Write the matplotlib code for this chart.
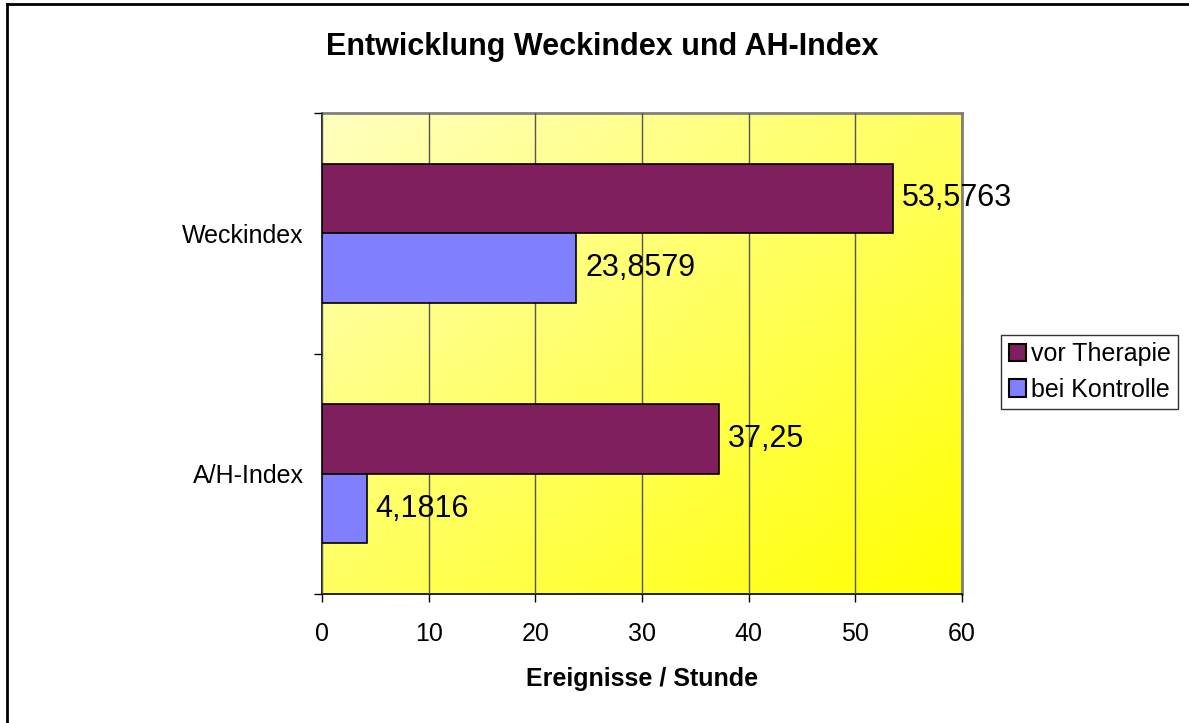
import numpy as np
import matplotlib
matplotlib.use("Agg")
import matplotlib.pyplot as plt
from matplotlib.patches import Patch
from matplotlib.colors import LinearSegmentedColormap

categories = ["A/H-Index", "Weckindex"]
vor_therapie = [37.25, 53.5763]
bei_kontrolle = [4.1816, 23.8579]
vor_labels = ["37,25", "53,5763"]
bei_labels = ["4,1816", "23,8579"]
series_names = ["vor Therapie", "bei Kontrolle"]
xticks = [0, 10, 20, 30, 40, 50, 60]

c_vor = "#7f1f5e"
c_bei = "#8080ff"

plt.rcParams['font.family'] = ['Liberation Sans', 'DejaVu Sans']
fig = plt.figure(figsize=(11.89, 7.23), dpi=100)
ax = fig.add_axes([322/1189, 1-594/723, (962-322)/1189, (594-113)/723])

# gradient background
n = 300
xx, yy = np.meshgrid(np.linspace(0, 1, n), np.linspace(0, 1, n))
g = (xx + yy) / 2
cmap = LinearSegmentedColormap.from_list("yel", ["#ffffc0", "#ffff00"])
ax.imshow(g, extent=[0, 60, -0.5, 1.5], origin="upper", cmap=cmap,
          aspect="auto", zorder=0, interpolation="bilinear")

y = np.arange(len(categories))
h = 0.29
ax.barh(y + h/2, vor_therapie, height=h, color=c_vor, edgecolor="black", linewidth=1.2, zorder=3)
ax.barh(y - h/2, bei_kontrolle, height=h, color=c_bei, edgecolor="black", linewidth=1.2, zorder=3)

for i in range(len(categories)):
    ax.text(vor_therapie[i] + 0.8, y[i] + h/2, vor_labels[i], va="center", ha="left", fontsize=22, zorder=4)
    ax.text(bei_kontrolle[i] + 0.8, y[i] - h/2, bei_labels[i], va="center", ha="left", fontsize=22, zorder=4)

ax.set_xlim(0, 60)
ax.set_ylim(-0.5, 1.5)
ax.set_xticks(xticks)
ax.set_xticklabels([str(t) for t in xticks], fontsize=18)
ax.set_yticks([-0.5, 0.5, 1.5])
ax.set_yticklabels([])
ax.set_yticks(y, minor=True)
ax.set_yticklabels(categories, minor=True, fontsize=18)
ax.tick_params(axis="y", which="minor", length=0, pad=13)
ax.tick_params(axis="y", which="major", direction="out", length=6, width=1)
ax.tick_params(axis="x", direction="out", length=6, width=1, pad=14)
ax.grid(axis="x", color="#555555", linewidth=1, zorder=1)
ax.set_axisbelow(False)
for s in ["top", "right"]:
    ax.spines[s].set_color("#808080")
    ax.spines[s].set_linewidth(2)
for s in ["left", "bottom"]:
    ax.spines[s].set_color("black")
    ax.spines[s].set_linewidth(1.2)

ax.set_xlabel("Ereignisse / Stunde", fontsize=18, fontweight="bold", labelpad=15)
fig.text(602/1189, 1-47/723, "Entwicklung Weckindex und AH-Index", ha="center", va="center",
         fontsize=22, fontweight="bold")

handles = [Patch(facecolor=c_vor, edgecolor="black", linewidth=1.5),
           Patch(facecolor=c_bei, edgecolor="black", linewidth=1.5)]
leg = fig.legend(handles, series_names, loc="center left", bbox_to_anchor=(1001/1189, 1-372/723),
                 fontsize=18, frameon=True, fancybox=False, handlelength=0.7, handleheight=0.7,
                 handletextpad=0.2, borderpad=0.3, labelspacing=0.45, borderaxespad=0)
leg.get_frame().set_edgecolor("black")
leg.get_frame().set_linewidth(1)

# figure border (left and top visible)
fig.add_artist(plt.Line2D([7/1189, 7/1189], [0, 1-4/723], color="black", linewidth=2, transform=fig.transFigure))
fig.add_artist(plt.Line2D([7/1189, 1], [1-4/723, 1-4/723], color="black", linewidth=2, transform=fig.transFigure))

fig.savefig("out.png", dpi=100)
